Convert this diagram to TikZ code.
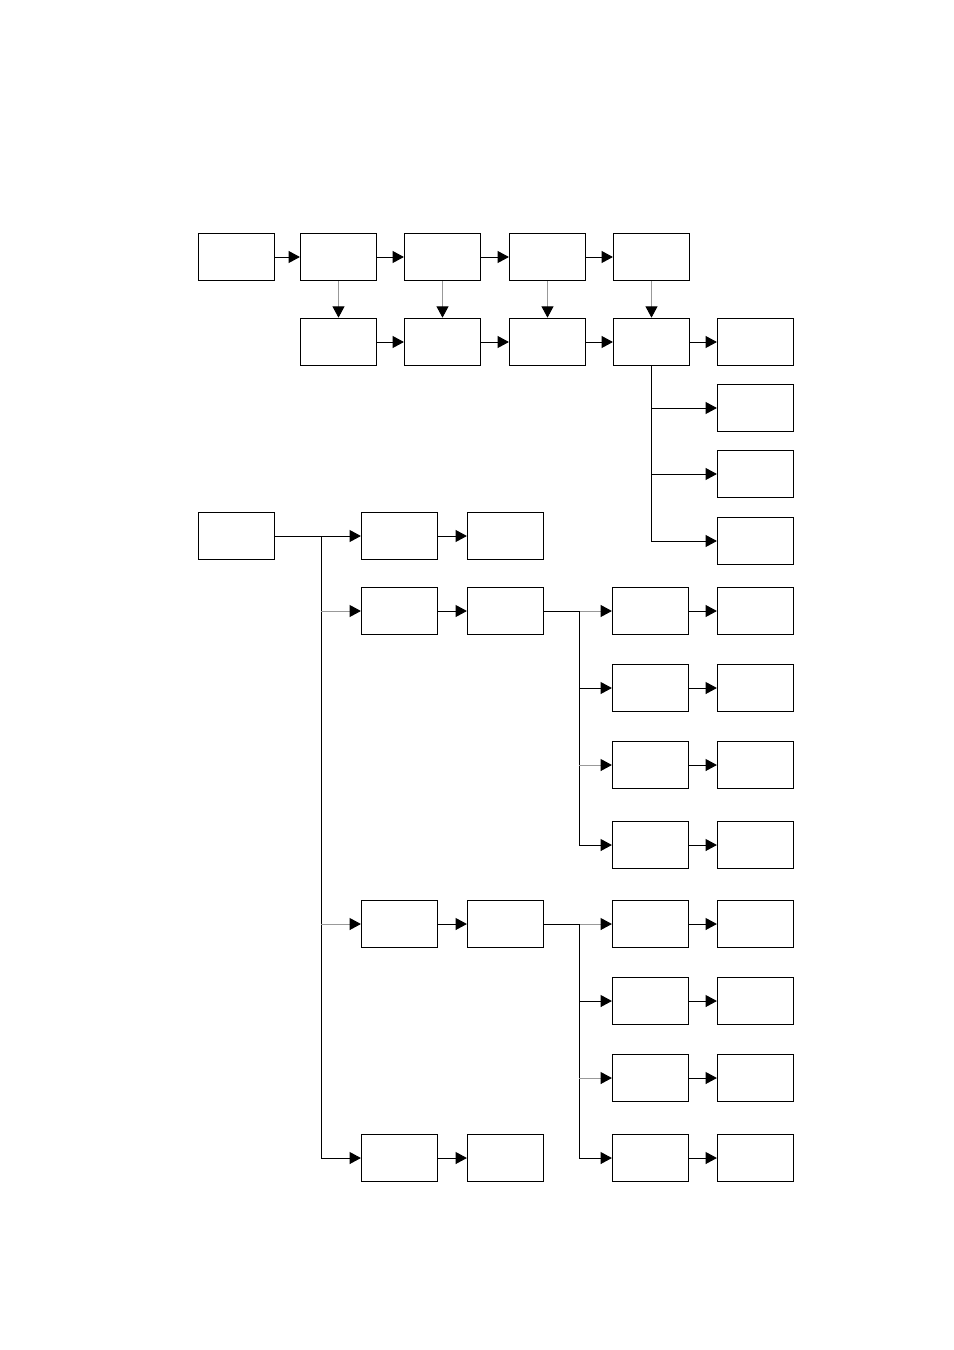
\documentclass[tikz,border=0pt]{standalone}
\usepackage{xcolor}
\usepackage{tikz}
\usetikzlibrary{arrows.meta,positioning,calc}

\begin{document}
\begin{tikzpicture}[
  x=0.0265cm, y=-0.0265cm,
  box/.style={draw=black, line width=0.7pt, minimum width=57.5pt, minimum height=36pt, inner sep=0pt},
  arrow/.style={-{Triangle[length=8.5pt, width=9pt, color=black]}, line width=0.7pt, draw=black},
  faint/.style={arrow, draw=black!40}
]
\useasboundingbox (0,0) rectangle (954,1350);
% upper part
\node[box] (a1) at (236.5,257) {};
\node[box] (a2) at (338.5,257) {};
\node[box] (a3) at (442.5,257) {};
\node[box] (a4) at (547.5,257) {};
\node[box] (a5) at (651.5,257) {};
\node[box] (b1) at (338.5,342) {};
\node[box] (b2) at (442.5,342) {};
\node[box] (b3) at (547.5,342) {};
\node[box] (b4) at (651.5,342) {};
\node[box] (b5) at (755.5,342) {};
\node[box] (c1) at (755.5,408) {};
\node[box] (c2) at (755.5,474) {};
\node[box] (c3) at (755.5,541) {};
\draw[arrow] (a1) -- (a2);
\draw[arrow] (a2) -- (a3);
\draw[arrow] (a3) -- (a4);
\draw[arrow] (a4) -- (a5);
\draw[faint] (a2) -- (b1);
\draw[faint] (a3) -- (b2);
\draw[faint] (a4) -- (b3);
\draw[faint] (a5) -- (b4);
\draw[arrow] (b1) -- (b2);
\draw[arrow] (b2) -- (b3);
\draw[arrow] (b3) -- (b4);
\draw[arrow] (b4) -- (b5);
\draw[arrow] (b4.south) |- (c3.west);
\draw[arrow] (b4.south |- c1.west) -- (c1.west);
\draw[arrow] (b4.south |- c2.west) -- (c2.west);

% lower part
\node[box] (root) at (236.5,536) {};
\node[box] (n1) at (399.5,536) {};
\node[box] (n2) at (505.5,536) {};
\node[box] (p1) at (399.5,611) {};
\node[box] (p2) at (505.5,611) {};
\node[box] (q1) at (399.5,924) {};
\node[box] (q2) at (505.5,924) {};
\node[box] (s1) at (399.5,1158) {};
\node[box] (s2) at (505.5,1158) {};
\coordinate (j1) at (321,536);
\draw[line width=0.7pt] (root.east) -- (j1);
\draw[arrow] (j1) -- (n1);
\draw[arrow] (j1) |- (s1.west);
\draw[faint] (j1 |- p1.west) -- (p1.west);
\draw[faint] (j1 |- q1.west) -- (q1.west);
\draw[arrow] (n1) -- (n2);
\draw[arrow] (p1) -- (p2);
\draw[arrow] (q1) -- (q2);
\draw[arrow] (s1) -- (s2);

% branch of p2
\node[box] (u1) at (650.5,611) {};
\node[box] (u2) at (650.5,688) {};
\node[box] (u3) at (650.5,765) {};
\node[box] (u4) at (650.5,845) {};
\node[box] (v1) at (755.5,611) {};
\node[box] (v2) at (755.5,688) {};
\node[box] (v3) at (755.5,765) {};
\node[box] (v4) at (755.5,845) {};
\coordinate (j2) at (579,611);
\draw[line width=0.7pt] (p2.east) -- (j2);
\draw[faint] (j2) -- (u1);
\draw[arrow] (j2) |- (u4.west);
\draw[arrow] (j2 |- u2.west) -- (u2.west);
\draw[faint] (j2 |- u3.west) -- (u3.west);
\draw[arrow] (u1) -- (v1);
\draw[arrow] (u2) -- (v2);
\draw[arrow] (u3) -- (v3);
\draw[arrow] (u4) -- (v4);

% branch of q2
\node[box] (w1) at (650.5,924) {};
\node[box] (w2) at (650.5,1001) {};
\node[box] (w3) at (650.5,1078) {};
\node[box] (w4) at (650.5,1158) {};
\node[box] (z1) at (755.5,924) {};
\node[box] (z2) at (755.5,1001) {};
\node[box] (z3) at (755.5,1078) {};
\node[box] (z4) at (755.5,1158) {};
\coordinate (j3) at (579,924);
\draw[line width=0.7pt] (q2.east) -- (j3);
\draw[faint] (j3) -- (w1);
\draw[arrow] (j3) |- (w4.west);
\draw[arrow] (j3 |- w2.west) -- (w2.west);
\draw[faint] (j3 |- w3.west) -- (w3.west);
\draw[arrow] (w1) -- (z1);
\draw[arrow] (w2) -- (z2);
\draw[arrow] (w3) -- (z3);
\draw[arrow] (w4) -- (z4);
\end{tikzpicture}
\end{document}
